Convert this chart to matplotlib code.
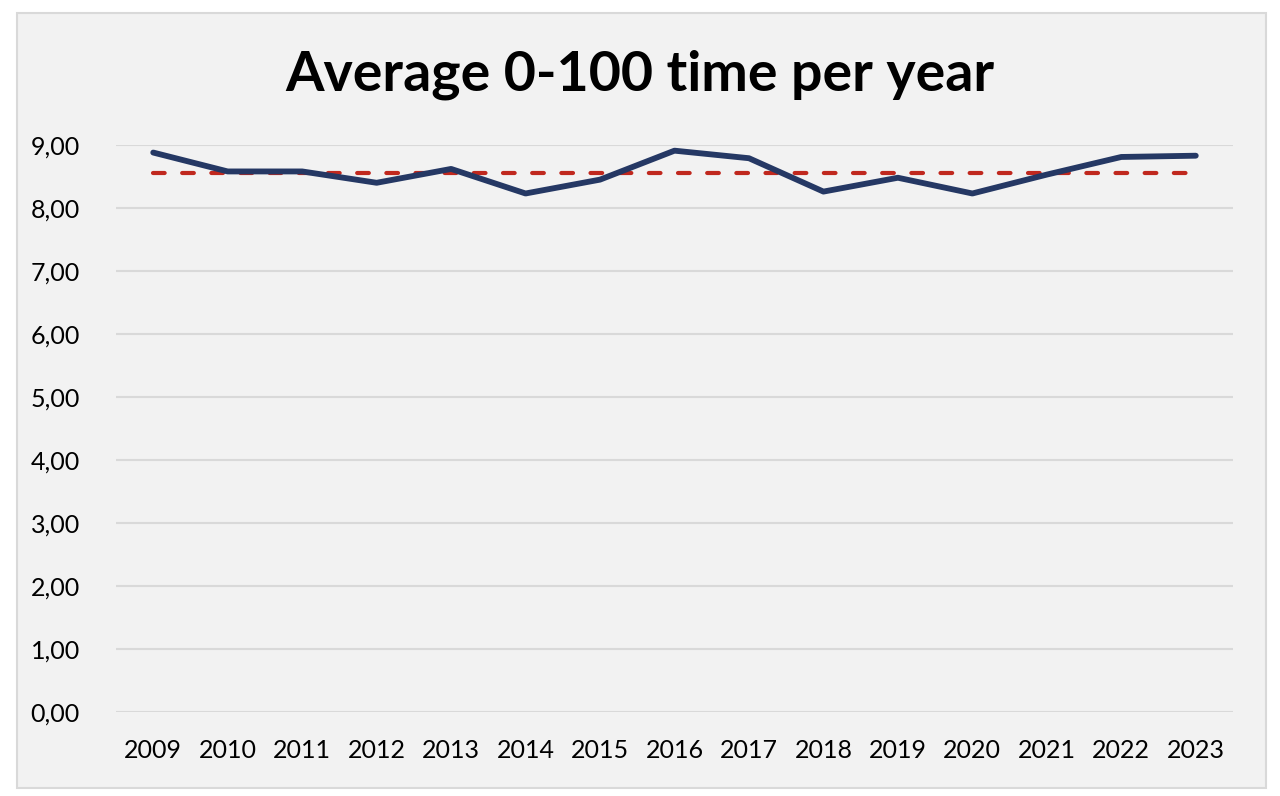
import matplotlib.pyplot as plt
from matplotlib.patches import Rectangle
from matplotlib.ticker import FuncFormatter, MultipleLocator
import numpy as np

years = ["2009", "2010", "2011", "2012", "2013", "2014", "2015", "2016",
         "2017", "2018", "2019", "2020", "2021", "2022", "2023"]
avg_time = [8.88, 8.58, 8.58, 8.40, 8.62, 8.23, 8.45, 8.91,
            8.79, 8.26, 8.48, 8.23, 8.53, 8.81, 8.83]
overall_avg = [8.55] * len(years)

plt.rcParams['font.family'] = ['Lato', 'DejaVu Sans']

fig = plt.figure(figsize=(12.8, 7.96), dpi=100)
fig.patch.set_facecolor("white")
# grey chart box with thin border, behind the axes
fig.patches.append(Rectangle((17 / 1280, 1 - 788 / 796), (1266 - 17) / 1280, (788 - 13) / 796,
                             transform=fig.transFigure, facecolor="#f2f2f2",
                             edgecolor="#d9d9d9", linewidth=1.5, zorder=-5))

ax = fig.add_axes([116 / 1280, 1 - 711.7 / 796, (1233 - 116) / 1280, (711.7 - 145) / 796])
ax.set_facecolor("#f2f2f2")

x = np.arange(len(years))
ax.plot(x, avg_time, color="#253864", linewidth=4.2, solid_capstyle="round", zorder=3)
ax.plot(x, overall_avg, color="#c0281e", linewidth=3.0, linestyle=(0, (2.8, 4.2)),
        dash_capstyle="round", zorder=2)

ax.set_xlim(-0.5, len(years) - 0.5)
ax.set_ylim(0, 9)
ax.set_xticks(x)
ax.set_xticklabels(years)
ax.yaxis.set_major_locator(MultipleLocator(1))
ax.yaxis.set_major_formatter(FuncFormatter(lambda v, p: f"{v:.2f}".replace(".", ",")))
ax.grid(axis="y", color="#d9d9d9", linewidth=1.5)
ax.set_axisbelow(True)
for s in ax.spines.values():
    s.set_visible(False)
ax.tick_params(axis="both", length=0, labelsize=18, colors="black")
ax.tick_params(axis="y", pad=26)
ax.tick_params(axis="x", pad=20)

fig.text(0.5, 1 - 75 / 796, "Average 0-100 time per year", ha="center", va="center",
         fontsize=40, fontweight="bold")

fig.savefig("out.png", dpi=100, facecolor=fig.get_facecolor())
